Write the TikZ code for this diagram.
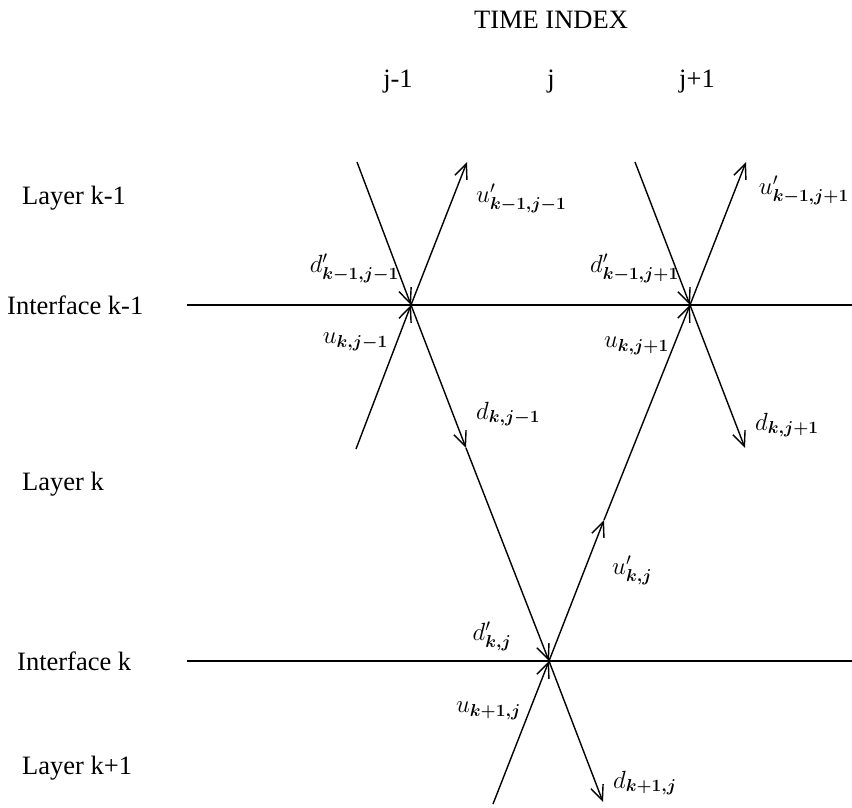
\documentclass[tikz,border=0pt]{standalone}
\usepackage{amsmath}
\usepackage{fontspec}
\setmainfont{Liberation Serif}
\usetikzlibrary{arrows.meta}
\newcommand{\bsub}[1]{\boldsymbol{#1}}
\begin{document}
\begin{tikzpicture}[x=1pt,y=-1pt,
  ray/.style={line width=1.4pt},
  arr/.style={ray,-{Straight Barb[length=15pt,width=13pt,line width=1.4pt]}},
  iface/.style={line width=1.1pt},
  lbl/.style={font=\fontsize{26.5}{30}\selectfont,inner sep=0pt},
  mlbl/.style={font=\fontsize{26}{30}\selectfont,inner sep=0pt}]
\useasboundingbox (0,0) rectangle (852,808);
% headings
\node[lbl] (ti) at (551,20) {TIME INDEX};
\node[lbl] (tjm) at (398,82) {j-1};
\node[lbl] (tj) at (551,82) {j};
\node[lbl] (tjp) at (697,82) {j+1};
% layer labels
\node[lbl,anchor=west] (l1) at (22,198) {Layer k-1};
\node[lbl,anchor=west] (i1) at (7,305) {Interface k-1};
\node[lbl,anchor=west] (l2) at (22,484) {Layer k};
\node[lbl,anchor=west] (i2) at (17,661) {Interface k};
\node[lbl,anchor=west] (l3) at (22,768) {Layer k+1};
% interface lines
\coordinate (i1a) at (187,305);
\coordinate (i1b) at (852,305);
\coordinate (i2a) at (187,661);
\coordinate (i2b) at (852,661);
\draw[iface] (i1a) -- (i1b);
\draw[iface] (i2a) -- (i2b);
% ray points
\coordinate (X1) at (411,305);
\coordinate (X2) at (690,305);
\coordinate (X3) at (549,661);
\coordinate (A1) at (357,162);
\coordinate (U1t) at (467,162);
\coordinate (U1b) at (356,449);
\coordinate (M1) at (466,448);
\coordinate (B3) at (603,802);
\coordinate (U3b) at (493,804);
\coordinate (M2) at (604,520);
\coordinate (A2) at (635,162);
\coordinate (U2t) at (746,162);
\coordinate (D2) at (745,448);
% rays
\draw[arr] (A1) -- (X1);
\draw[arr] (X1) -- (U1t);
\draw[arr] (U1b) -- (X1);
\draw[arr] (X1) -- (M1);
\draw[arr] (M1) -- (X3);
\draw[arr] (X3) -- (B3);
\draw[arr] (U3b) -- (X3);
\draw[arr] (X3) -- (M2);
\draw[arr] (M2) -- (X2);
\draw[arr] (A2) -- (X2);
\draw[arr] (X2) -- (U2t);
\draw[arr] (X2) -- (D2);
% ray labels
\node[mlbl,anchor=west] (n1) at (476,198) {$u'_{\bsub{k-1,j-1}}$};
\node[mlbl,anchor=east] (n2) at (399,268) {$d'_{\bsub{k-1,j-1}}$};
\node[mlbl,anchor=east] (n3) at (388,342) {$u_{\bsub{k,j-1}}$};
\node[mlbl,anchor=west] (n4) at (476,414) {$d_{\bsub{k,j-1}}$};
\node[mlbl,anchor=east] (n5) at (849,190) {$u'_{\bsub{k-1,j+1}}$};
\node[mlbl,anchor=east] (n6) at (679,268) {$d'_{\bsub{k-1,j+1}}$};
\node[mlbl,anchor=east] (n7) at (669,346) {$u_{\bsub{k,j+1}}$};
\node[mlbl,anchor=west] (n8) at (755,425) {$d_{\bsub{k,j+1}}$};
\node[mlbl,anchor=west] (n9) at (612,570) {$u'_{\bsub{k,j}}$};
\node[mlbl] (n10) at (492,636) {$d'_{\bsub{k,j}}$};
\node[mlbl,anchor=east] (n11) at (521,711) {$u_{\bsub{k+1,j}}$};
\node[mlbl,anchor=west] (n12) at (613,783) {$d_{\bsub{k+1,j}}$};
\end{tikzpicture}
\end{document}
